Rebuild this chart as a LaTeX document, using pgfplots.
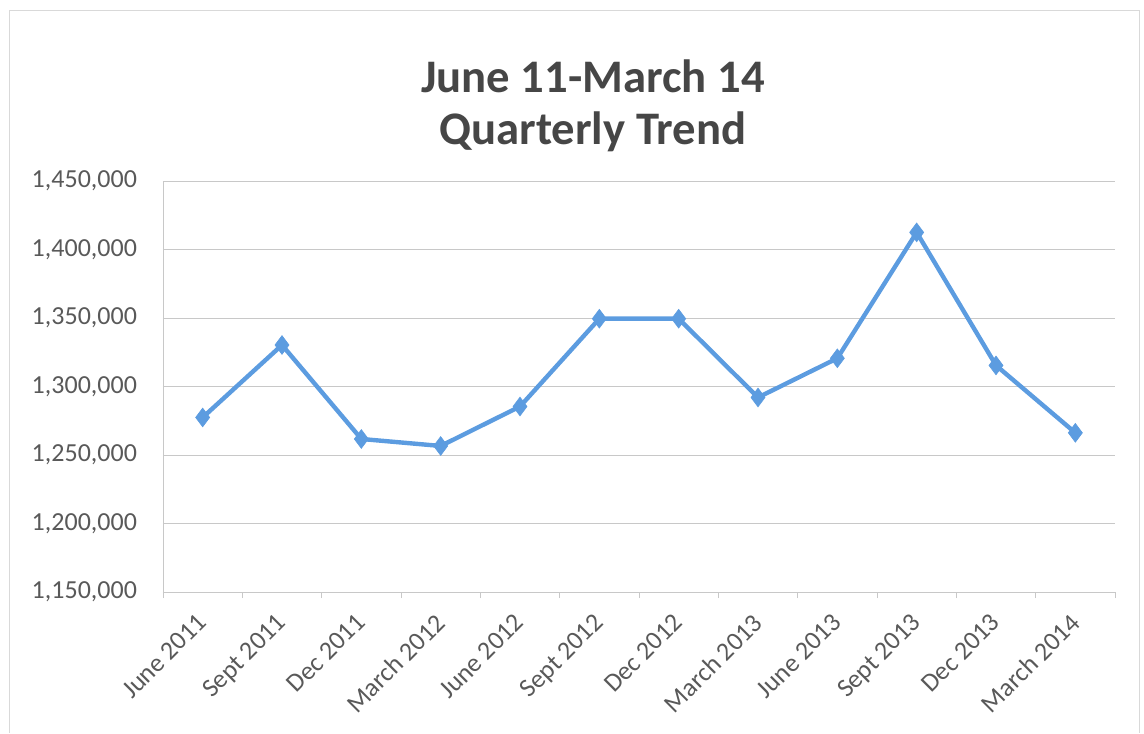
\documentclass[border=0pt]{standalone}
\usepackage{pgfplots}
\pgfplotsset{compat=1.18}
\usepackage{fontspec}
\setmainfont{Carlito}
\definecolor{tickgray}{RGB}{89,89,89}
\definecolor{titlegray}{RGB}{70,70,70}
\definecolor{lineblue}{RGB}{92,156,224}
\definecolor{gridgray}{RGB}{200,200,200}
\begin{document}
\begin{tikzpicture}
\useasboundingbox (-122.25pt,-105.75pt) rectangle (735.75pt,444pt);
\draw[gray!30, line width=0.6pt] (-115.5pt,-105.75pt) -- (-115.5pt,436.5pt) -- (732pt,436.5pt) -- (732pt,-105.75pt);
\begin{axis}[
  scale only axis,
  width=714pt, height=308.25pt,
  xmin=-0.5, xmax=11.5,
  ymin=1150000, ymax=1450000,
  ytick={1150000,1200000,...,1450000},
  scaled y ticks=false,
  xtick={0,...,11},
  xticklabels={June 2011,Sept 2011,Dec 2011,March 2012,June 2012,Sept 2012,Dec 2012,March 2013,June 2013,Sept 2013,Dec 2013,March 2014},
  minor xtick={-0.5,0.5,...,11.5},
  major tick length=0pt,
  minor tick length=4.5pt,
  tick align=outside,
  minor tick style={gridgray, line width=0.6pt},
  axis x line*=bottom, axis y line*=left,
  axis line style={gridgray, line width=0.6pt, -},
  ymajorgrids,
  major grid style={gridgray, line width=0.6pt},
  /pgf/number format/.cd, fixed, 1000 sep={,}, assume math mode=true,
  /pgfplots/.cd,
  yticklabel style={font=\fontsize{19.5}{23}\selectfont, text=tickgray, xshift=-16pt},
  xticklabel style={font=\fontsize{19.5}{23}\selectfont, text=tickgray, xshift=-5pt, yshift=-10pt, rotate=45, anchor=north east},
  clip=false,
]
\addplot[lineblue, line width=3.3pt, mark=diamond*, mark size=7pt, mark options={fill=lineblue, draw=lineblue, line width=0.5pt}]
coordinates {
(0,1277400) (1,1330300) (2,1261700) (3,1256600) (4,1285400) (5,1349500)
(6,1349500) (7,1292000) (8,1320600) (9,1412500) (10,1315400) (11,1266200)
};
\end{axis}
\node[font=\fontsize{35}{42}\bfseries, text=titlegray] at (322.5pt,386.5pt) {June 11-March 14};
\node[font=\fontsize{35}{42}\bfseries, text=titlegray] at (322.5pt,345.5pt) {Quarterly Trend};
\end{tikzpicture}
\end{document}
